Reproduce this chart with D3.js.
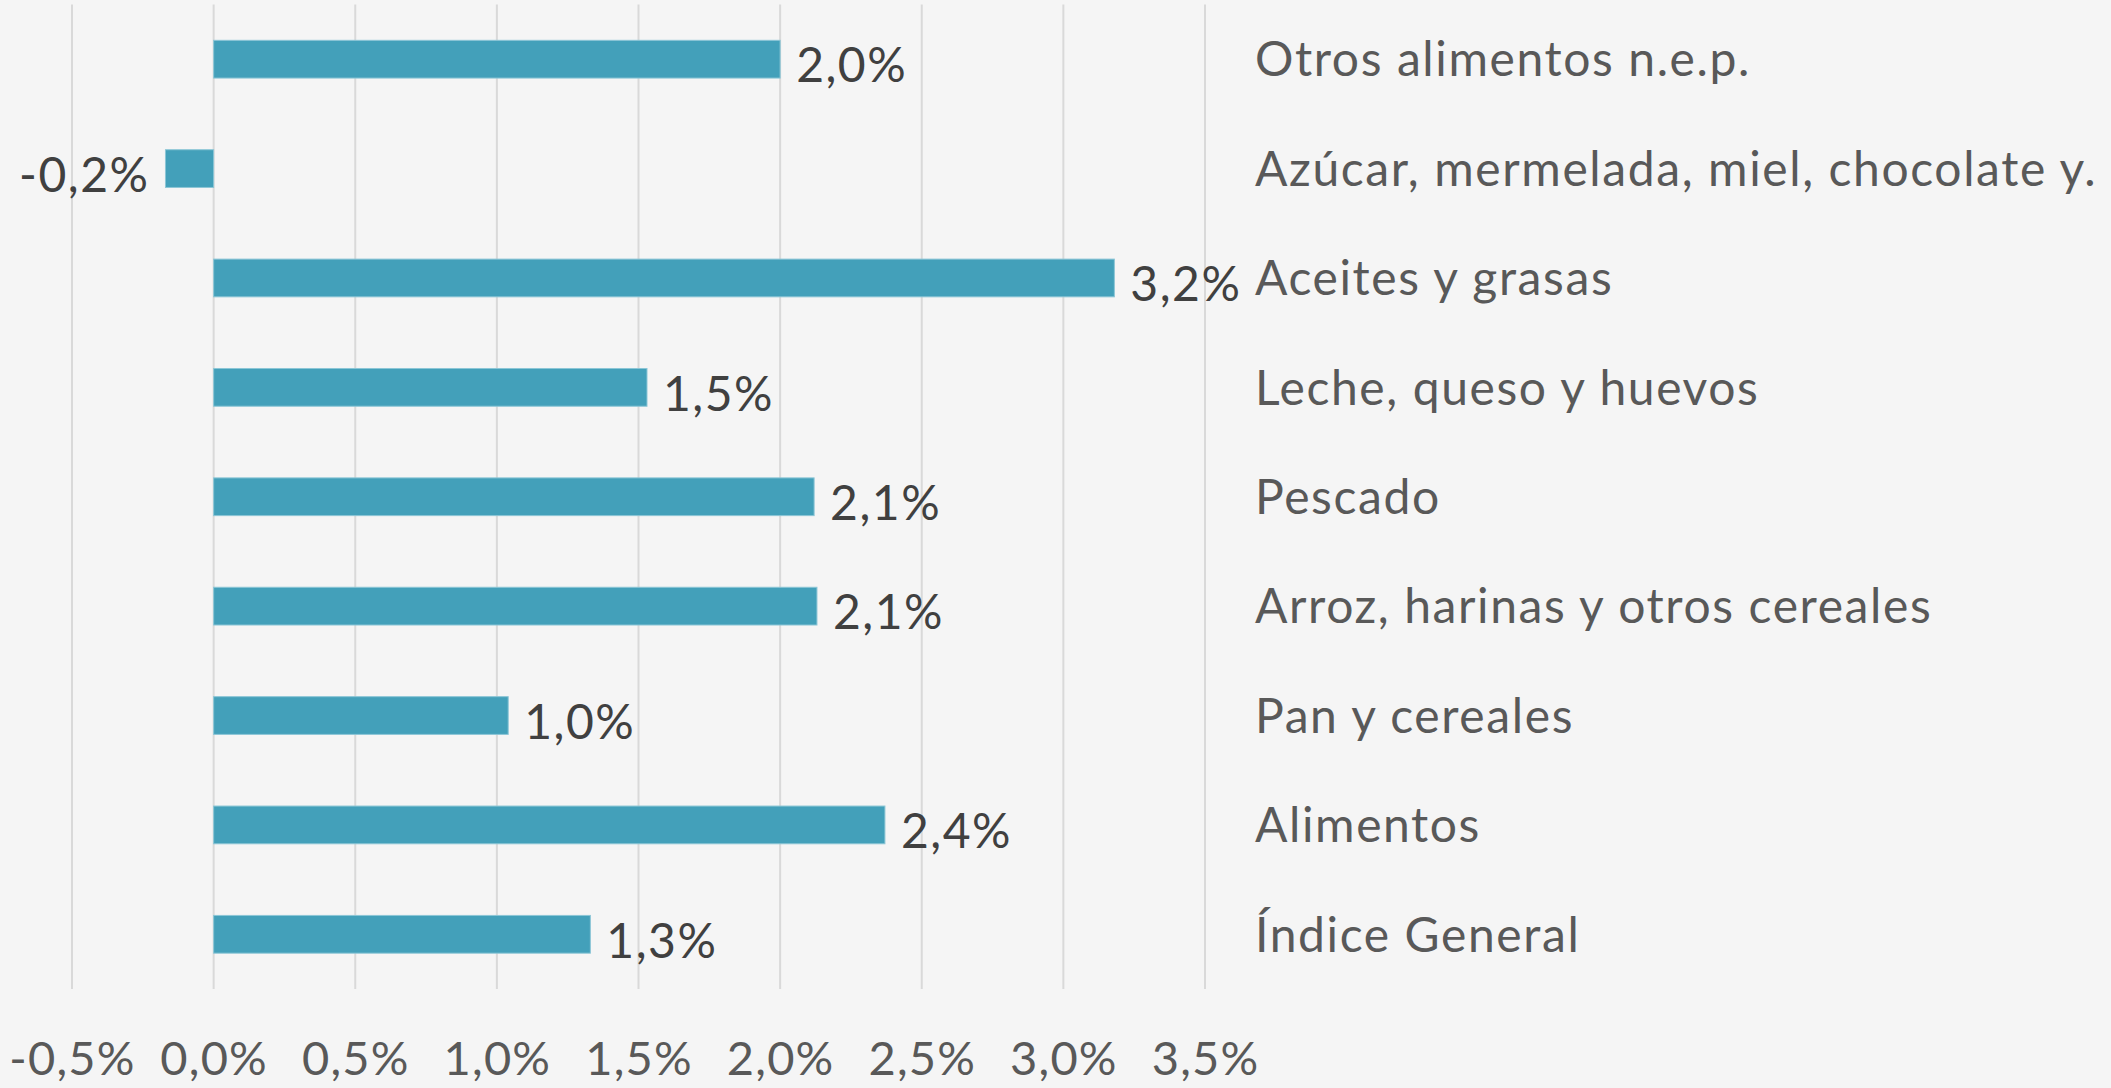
<!DOCTYPE html>
<html>
<head>
<meta charset="utf-8">
<script src="https://cdn.jsdelivr.net/npm/d3@7"></script>
<style>
  body { margin: 0; background: #f5f5f5; }
  svg { display: block; font-family: Lato, "Open Sans", sans-serif; }
</style>
</head>
<body>
<svg></svg>
<script>
// Categorías (de arriba a abajo) y variación en %
const categorias = [
  "Otros alimentos n.e.p.",
  "Azúcar, mermelada, miel, chocolate y.",
  "Aceites y grasas",
  "Leche, queso y huevos",
  "Pescado",
  "Arroz, harinas y otros cereales",
  "Pan y cereales",
  "Alimentos",
  "Índice General"
];
const valores = [2.0, -0.17, 3.18, 1.53, 2.12, 2.13, 1.04, 2.37, 1.33];
const ticks = [-0.5, 0, 0.5, 1, 1.5, 2, 2.5, 3, 3.5];

const width = 2111;
const height = 1088;

// Formato con coma decimal y guion normal
const es = d3.formatLocale({ decimal: ",", thousands: ".", grouping: [3], currency: ["", "€"], minus: "-" });
const fmt = v => es.format(".1f")(v) + "%";

const svg = d3.select("svg")
  .attr("width", width)
  .attr("height", height);

svg.append("rect")
  .attr("width", width)
  .attr("height", height)
  .attr("fill", "#f5f5f5");

// Escalas
const x = d3.scaleLinear()
  .domain([-0.5, 3.5])
  .range([72, 1205]);

const y = d3.scaleBand()
  .domain(categorias)
  .range([4.5, 989])
  .paddingInner(0.655)
  .paddingOuter(0.3275);

// Líneas de cuadrícula
svg.append("g")
  .selectAll("line")
  .data(ticks)
  .join("line")
  .attr("x1", d => x(d))
  .attr("x2", d => x(d))
  .attr("y1", 4.5)
  .attr("y2", 989)
  .attr("stroke", "#d9d9d9")
  .attr("stroke-width", 2);

// Eje X (solo etiquetas)
const xAxis = svg.append("g")
  .attr("transform", "translate(0,1075)")
  .call(d3.axisBottom(x).tickValues(ticks).tickFormat(fmt).tickSize(0).tickPadding(0));
xAxis.select(".domain").remove();
xAxis.selectAll("text")
  .attr("dy", 0)
  .attr("font-size", 47)
  .attr("letter-spacing", 1.2)
  .attr("font-family", "Lato, sans-serif")
  .attr("fill", "#595959");

// Barras
svg.append("g")
  .selectAll("rect")
  .data(valores)
  .join("rect")
  .attr("x", d => x(Math.min(0, d)))
  .attr("width", d => Math.abs(x(d) - x(0)))
  .attr("y", (d, i) => y(categorias[i]))
  .attr("height", y.bandwidth())
  .attr("fill", "#43a0ba")
  .attr("stroke", "#8cc6d6")
  .attr("stroke-width", 1);

// Etiquetas de valor
svg.append("g")
  .selectAll("text")
  .data(valores)
  .join("text")
  .attr("x", d => d < 0 ? x(d) - 16 : x(d) + 16)
  .attr("y", (d, i) => y(categorias[i]) + y.bandwidth() / 2 + 6.5)
  .attr("dy", "0.35em")
  .attr("text-anchor", d => d < 0 ? "end" : "start")
  .attr("font-size", 48)
  .attr("letter-spacing", 1.5)
  .attr("fill", "#404040")
  .text(d => fmt(d));

// Etiquetas de categoría
svg.append("g")
  .selectAll("text")
  .data(categorias)
  .join("text")
  .attr("x", 1255)
  .attr("y", d => y(d) + y.bandwidth() / 2)
  .attr("dy", "0.36em")
  .attr("font-size", 48)
  .attr("letter-spacing", 1.6)
  .attr("fill", "#595959")
  .text(d => d);
</script>
</body>
</html>
